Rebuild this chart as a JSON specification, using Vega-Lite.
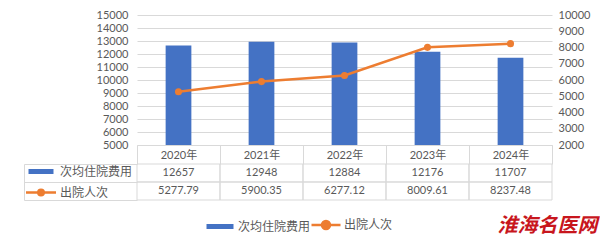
{
  "$schema": "https://vega.github.io/schema/vega-lite/v6.json",
  "padding": {"left": 23, "top": 9, "right": 4, "bottom": 2},
  "background": "white",
  "datasets": {
    "d": [
      {"年份": "2020年", "次均住院费用": 12657, "出院人次": 5277.79},
      {"年份": "2021年", "次均住院费用": 12948, "出院人次": 5900.35},
      {"年份": "2022年", "次均住院费用": 12884, "出院人次": 6277.12},
      {"年份": "2023年", "次均住院费用": 12176, "出院人次": 8009.61},
      {"年份": "2024年", "次均住院费用": 11707, "出院人次": 8237.48}
    ]
  },
  "config": {
    "view": {"stroke": null},
    "axis": {"labelColor": "#595959", "labelFont": "Lato", "labelFontSize": 11, "title": null}
  },
  "bounds": "flush",
  "spacing": 19,
  "resolve": {"scale": {"color": "independent"}, "legend": {"color": "independent"}},
  "vconcat": [
    {
      "width": 415,
      "height": 130,
      "data": {"name": "d"},
      "encoding": {
        "x": {
          "field": "年份", "type": "nominal", "sort": null,
          "scale": {"paddingInner": 0, "paddingOuter": 0},
          "axis": {
            "labelAngle": 0, "domainColor": "#d9d9d9", "tickBand": "extent",
            "tickColor": "#d9d9d9", "tickSize": 19, "labelPadding": -9,
            "labelBaseline": "middle", "labelFont": "Lato, Noto Sans CJK SC",
            "labelFontSize": 11, "grid": false
          }
        }
      },
      "layer": [
        {
          "mark": {"type": "bar", "width": {"band": 0.31}},
          "encoding": {
            "y": {
              "field": "次均住院费用", "type": "quantitative",
              "scale": {"domain": [5000, 15000]},
              "axis": {
                "values": [5000, 6000, 7000, 8000, 9000, 10000, 11000, 12000, 13000, 14000, 15000],
                "format": "d", "domain": false, "ticks": false, "labelPadding": 9, "gridColor": "#d9d9d9"
              }
            },
            "y2": {"datum": 5000},
            "color": {
              "datum": "次均住院费用", "type": "nominal",
              "scale": {"domain": ["次均住院费用", "出院人次"], "range": ["#4472C4", "#ED7D31"]},
              "legend": {
                "orient": "none", "legendX": 77, "legendY": 204, "direction": "horizontal",
                "columns": 2, "title": null, "padding": 0, "columnPadding": -5, "labelOffset": 12,
                "symbolSize": 100, "labelFont": "Noto Sans CJK SC", "labelFontSize": 12,
                "labelColor": "#595959",
                "encode": {
                  "symbols": {
                    "update": {
                      "shape": {"signal": "datum.value === '出院人次' ? 'M-2.9,0H2.9M0.8,0A0.8,0.8,0,1,1,-0.8,0A0.8,0.8,0,1,1,0.8,0' : 'M-2.7,-0.5H2.7V0.5H-2.7Z'"},
                      "fill": {"signal": "datum.value === '出院人次' ? '#ED7D31' : '#4472C4'"},
                      "stroke": {"signal": "datum.value === '出院人次' ? '#ED7D31' : '#4472C4'"},
                      "strokeWidth": {"signal": "datum.value === '出院人次' ? 2.5 : 0"},
                      "opacity": {"value": 1},
                      "fillOpacity": {"value": 1}
                    }
                  }
                }
              }
            }
          }
        },
        {
          "mark": {"type": "line", "strokeWidth": 2.5, "point": {"filled": true, "size": 50}},
          "encoding": {
            "y": {
              "field": "出院人次", "type": "quantitative",
              "scale": {"domain": [2000, 10000]},
              "axis": {
                "orient": "right",
                "values": [2000, 3000, 4000, 5000, 6000, 7000, 8000, 9000, 10000],
                "format": "d", "grid": false, "domain": false, "ticks": false, "labelPadding": 6
              }
            },
            "color": {"datum": "出院人次", "type": "nominal"}
          }
        }
      ],
      "resolve": {"scale": {"y": "independent"}}
    },
    {
      "width": 415,
      "height": 36,
      "data": {"name": "d"},
      "transform": [{"fold": ["次均住院费用", "出院人次"], "as": ["指标", "值"]}],
      "title": {
        "text": "淮海名医网", "orient": "bottom", "anchor": "end", "color": "#C8161D",
        "font": "Noto Sans CJK SC", "fontSize": 20, "fontWeight": "bold", "fontStyle": "italic",
        "offset": 15, "dx": 45
      },
      "encoding": {
        "x": {
          "field": "年份", "type": "nominal", "sort": null,
          "scale": {"paddingInner": 0, "paddingOuter": 0}, "axis": null
        }
      },
      "layer": [
        {
          "mark": {"type": "rect", "fill": "#ffffff", "fillOpacity": 0, "stroke": "#d9d9d9", "strokeWidth": 1},
          "encoding": {
            "y": {
              "field": "指标", "type": "nominal", "sort": ["次均住院费用", "出院人次"],
              "scale": {"paddingInner": 0, "paddingOuter": 0},
              "axis": {"labels": false, "domain": false, "tickBand": "extent", "tickSize": 113, "tickColor": "#d9d9d9", "grid": false}
            }
          }
        },
        {
          "mark": {"type": "text", "font": "Lato", "fontSize": 11},
          "encoding": {
            "y": {
              "field": "指标", "type": "nominal", "sort": ["次均住院费用", "出院人次"],
              "axis": {"orient": "left", "offset": 113, "labels": false, "ticks": false, "domain": true, "domainColor": "#d9d9d9", "grid": false}
            },
            "text": {"field": "值", "type": "nominal"},
            "color": {
              "field": "指标", "type": "nominal", "sort": ["次均住院费用", "出院人次"],
              "scale": {"range": ["#595959", "#595959"]},
              "legend": {
                "orient": "none", "legendX": -102, "legendY": 1.5, "direction": "vertical",
                "title": null, "padding": 0, "rowPadding": 3, "labelOffset": 13,
                "symbolSize": 100, "labelFont": "Noto Sans CJK SC", "labelFontSize": 12,
                "labelColor": "#595959",
                "encode": {
                  "symbols": {
                    "update": {
                      "shape": {"signal": "datum.value === '出院人次' ? 'M-3,0H3M0.55,0A0.55,0.55,0,1,1,-0.55,0A0.55,0.55,0,1,1,0.55,0M0.15,0A0.15,0.15,0,1,1,-0.15,0A0.15,0.15,0,1,1,0.15,0' : 'M-2.5,0H2.5'"},
                      "stroke": {"signal": "datum.value === '出院人次' ? '#ED7D31' : '#4472C4'"},
                      "strokeWidth": {"signal": "datum.value === '出院人次' ? 2.5 : 5"},
                      "opacity": {"value": 1},
                      "strokeOpacity": {"value": 1}
                    }
                  }
                }
              }
            }
          }
        }
      ],
      "resolve": {"axis": {"y": "independent"}}
    }
  ]
}
